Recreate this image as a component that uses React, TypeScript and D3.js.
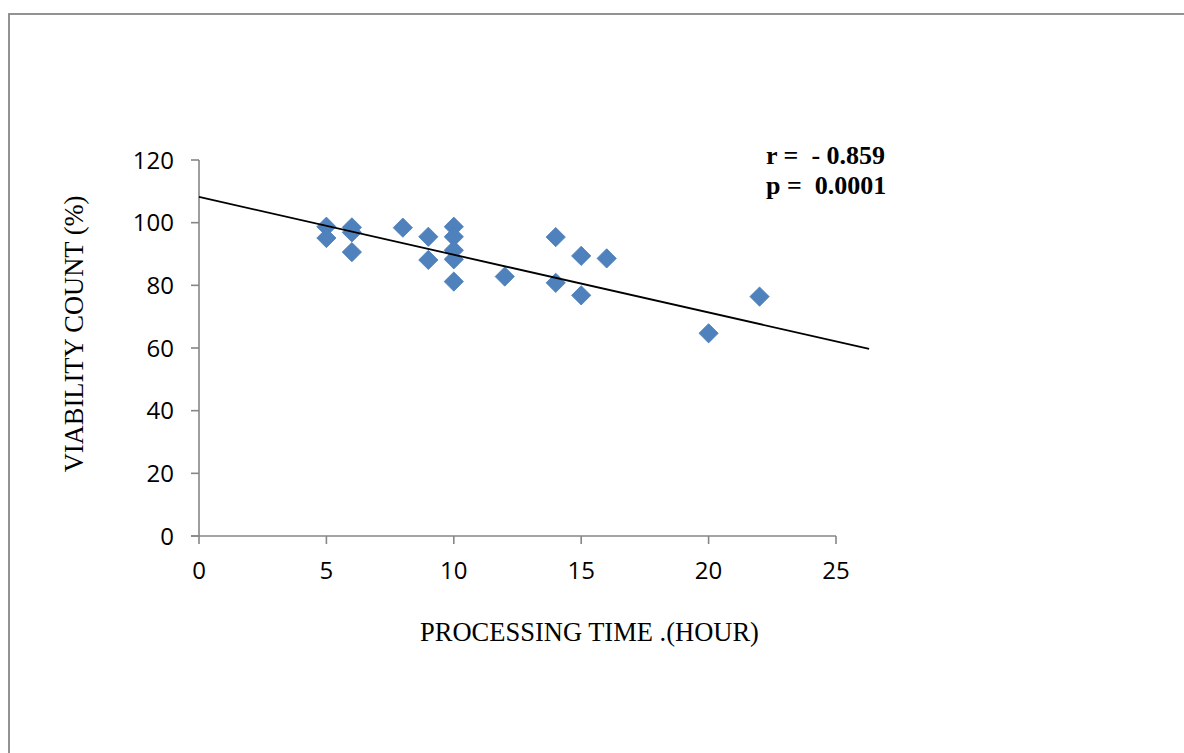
import React from "react";
import * as d3 from "d3";

// Data
const processingHours = [5, 5, 6, 6, 6, 8, 9, 9, 10, 10, 10, 10, 10, 12, 14, 14, 15, 15, 16, 20, 22];
const viabilityCount = [98.7, 95.1, 98.5, 96.9, 90.6, 98.4, 95.5, 88.1, 98.7, 95.5, 91.2, 88.3, 81.2, 82.8, 95.4, 80.8, 89.4, 76.8, 88.6, 64.7, 76.4];
const xTicks = [0, 5, 10, 15, 20, 25];
const yTicks = [0, 20, 40, 60, 80, 100, 120];
const trendIntercept = 108.2;
const trendSlope = -1.843;
const trendEndX = 26.3;
const statLines = ["r =  - 0.859", "p =  0.0001"];
const xTitle = "PROCESSING TIME .(HOUR)";
const yTitle = "VIABILITY COUNT (%)";

const W = 1184;
const H = 753;
const plot = { left: 199, right: 836, top: 160, bottom: 536 };
const axisColor = "#868686";
const markerColor = "#4F81BD";
const tickFont = "'Open Sans', 'Liberation Sans', sans-serif";
const serif = "'Liberation Serif', 'Times New Roman', serif";

export default function App() {
  const x = d3.scaleLinear().domain([0, 25]).range([plot.left, plot.right]);
  const y = d3.scaleLinear().domain([0, 120]).range([plot.bottom, plot.top]);

  const diamond = d3.symbol().type(d3.symbolSquare).size(185)();
  const trendPts: [number, number][] = [0, trendEndX].map((v) => [v, trendIntercept + trendSlope * v]);
  const trendPath = d3
    .line<[number, number]>()
    .x((d) => x(d[0]))
    .y((d) => y(d[1]))(trendPts);

  return (
    <svg
      width={W}
      height={H}
      style={{ position: "absolute", left: 0, top: 0, background: "#fff" }}
    >
      <rect x={9} y={14} width={1300} height={900} fill="none" stroke="#878787" strokeWidth={1.8} />

      {/* Y axis */}
      <line x1={x(0)} x2={x(0)} y1={y(0)} y2={y(120)} stroke={axisColor} strokeWidth={1.6} />
      {yTicks.map((t) => (
        <g key={"y" + t}>
          <line x1={x(0) - 8} x2={x(0)} y1={y(t)} y2={y(t)} stroke={axisColor} strokeWidth={1.6} />
          <text
            x={174}
            y={y(t)}
            dy="0.36em"
            textAnchor="end"
            fontFamily={tickFont}
            fontSize={24}
            fill="#000"
          >
            {t}
          </text>
        </g>
      ))}

      {/* X axis */}
      <line x1={x(0) - 8} x2={x(25)} y1={y(0)} y2={y(0)} stroke={axisColor} strokeWidth={1.6} />
      {xTicks.map((t) => (
        <g key={"x" + t}>
          <line x1={x(t)} x2={x(t)} y1={y(0)} y2={y(0) + 8} stroke={axisColor} strokeWidth={1.6} />
          <text
            x={x(t)}
            y={579}
            textAnchor="middle"
            fontFamily={tickFont}
            fontSize={24}
            fill="#000"
          >
            {t}
          </text>
        </g>
      ))}

      {/* Points */}
      {processingHours.map((h, i) => (
        <path
          key={"p" + i}
          d={diamond || ""}
          transform={`translate(${x(h)},${y(viabilityCount[i])}) rotate(45)`}
          fill={markerColor}
          stroke="#4A7EBB"
          strokeWidth={0.8}
        />
      ))}

      {/* Trend line */}
      <path d={trendPath || ""} fill="none" stroke="#000" strokeWidth={1.8} />

      {/* Stats */}
      {statLines.map((s, i) => (
        <text
          key={"s" + i}
          x={766}
          y={164 + i * 30}
          fontFamily={serif}
          fontWeight="bold"
          fontSize={26}
          fill="#000"
          style={{ whiteSpace: "pre" }}
          xmlSpace="preserve"
        >
          {s}
        </text>
      ))}

      {/* Axis titles */}
      <text
        x={589.5}
        y={641}
        textAnchor="middle"
        fontFamily={serif}
        fontSize={26.5}
        fill="#000"
      >
        {xTitle}
      </text>
      <text
        transform={`translate(83,334) rotate(-90)`}
        textAnchor="middle"
        fontFamily={serif}
        fontSize={26.5}
        fill="#000"
      >
        {yTitle}
      </text>
    </svg>
  );
}
